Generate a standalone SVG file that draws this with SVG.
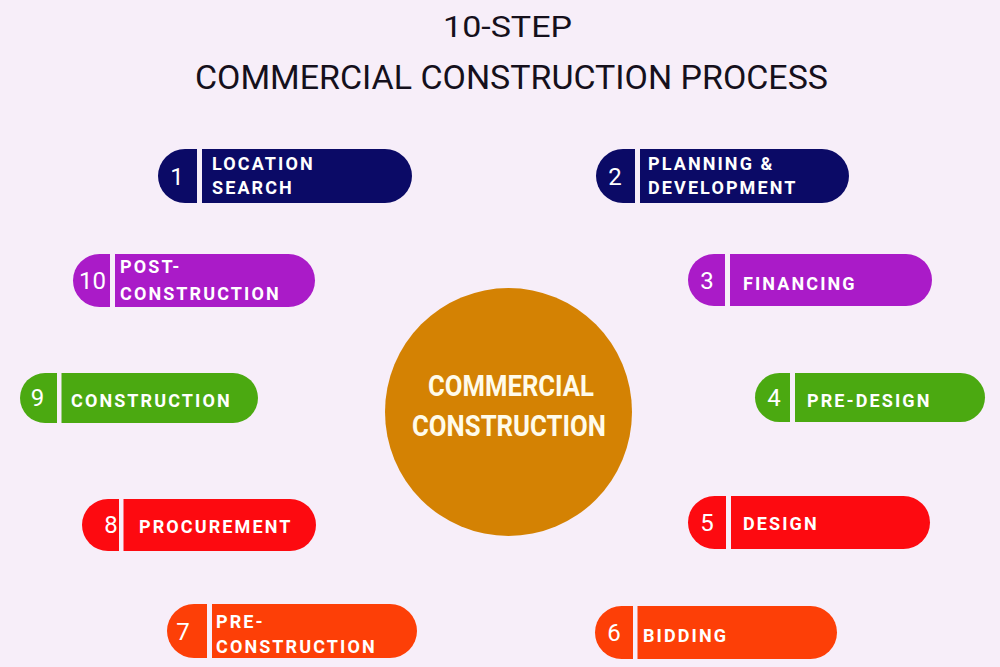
<svg xmlns="http://www.w3.org/2000/svg" width="1000" height="667" viewBox="0 0 1000 667">
  <style>
    .bg { fill: #f7eef9; }
    .gap { fill: #f7eef9; }
    .title { font-family: Roboto, "Liberation Sans", sans-serif; font-weight: 400; fill: #15101c; }
    .num { font-family: Roboto, "Liberation Sans", sans-serif; font-size: 24px; font-weight: 400; fill: #ffffff; text-anchor: middle; }
    .lbl { font-family: Roboto, "Liberation Sans", sans-serif; font-size: 18px; font-weight: 700; letter-spacing: 2.1px; fill: #ffffff; }
    .center { font-family: Roboto, "Liberation Sans", sans-serif; font-size: 30px; font-weight: 700; fill: #fffbea; text-anchor: middle; }
    .navy { fill: #0b0a66; }
    .purple { fill: #aa1bc8; }
    .green { fill: #4ba911; }
    .red { fill: #fd0a10; }
    .orange { fill: #fd3f07; }
  </style>
  <rect class="bg" x="0" y="0" width="1000" height="667"/>

  <g id="title">
    <text class="title" x="443" y="37" font-size="29" textLength="129" lengthAdjust="spacingAndGlyphs">10-STEP</text>
    <text class="title" x="195" y="89" font-size="33" textLength="633" lengthAdjust="spacingAndGlyphs">COMMERCIAL CONSTRUCTION PROCESS</text>
  </g>

  <g id="hub">
    <ellipse cx="508.5" cy="412" rx="123.5" ry="124" fill="#d48203"/>
    <text class="center" x="511" y="396" textLength="166" lengthAdjust="spacingAndGlyphs">COMMERCIAL</text>
    <text class="center" x="509" y="436" textLength="194" lengthAdjust="spacingAndGlyphs">CONSTRUCTION</text>
  </g>

  <g id="step1">
    <rect class="navy" x="158" y="149" width="254" height="54" rx="27" ry="27"/>
    <rect class="gap" x="197" y="148" width="5" height="56"/>
    <text class="num" x="177" y="185">1</text>
    <text class="lbl" x="212" y="170">LOCATION</text>
    <text class="lbl" x="212" y="194">SEARCH</text>
  </g>

  <g id="step2">
    <rect class="navy" x="596" y="149" width="253" height="54" rx="27" ry="27"/>
    <rect class="gap" x="635" y="148" width="5" height="56"/>
    <text class="num" x="615" y="185">2</text>
    <text class="lbl" x="648" y="170">PLANNING &amp;</text>
    <text class="lbl" x="648" y="194">DEVELOPMENT</text>
  </g>

  <g id="step3">
    <rect class="purple" x="688" y="254" width="244" height="52" rx="26" ry="26"/>
    <rect class="gap" x="725" y="253" width="5" height="54"/>
    <text class="num" x="707" y="289">3</text>
    <text class="lbl" x="743" y="290">FINANCING</text>
  </g>

  <g id="step4">
    <rect class="green" x="755" y="373" width="230" height="49" rx="24.5" ry="24.5"/>
    <rect class="gap" x="790" y="372" width="5" height="51"/>
    <text class="num" x="774" y="406">4</text>
    <text class="lbl" x="807" y="407">PRE-DESIGN</text>
  </g>

  <g id="step5">
    <rect class="red" x="688" y="496" width="242" height="53" rx="26.5" ry="26.5"/>
    <rect class="gap" x="726" y="495" width="5" height="55"/>
    <text class="num" x="707" y="531">5</text>
    <text class="lbl" x="743" y="530">DESIGN</text>
  </g>

  <g id="step6">
    <rect class="orange" x="595" y="606" width="242" height="53" rx="26.5" ry="26.5"/>
    <rect class="gap" x="633" y="605" width="4.5" height="55"/>
    <text class="num" x="614" y="641">6</text>
    <text class="lbl" x="643" y="642">BIDDING</text>
  </g>

  <g id="step7">
    <rect class="orange" x="167" y="604" width="250" height="54" rx="27" ry="27"/>
    <rect class="gap" x="207" y="603" width="5" height="56"/>
    <text class="num" x="183" y="640">7</text>
    <text class="lbl" x="216" y="628">PRE-</text>
    <text class="lbl" x="216" y="653">CONSTRUCTION</text>
  </g>

  <g id="step8">
    <rect class="red" x="82" y="499" width="234" height="52" rx="26" ry="26"/>
    <rect class="gap" x="119" y="498" width="4.5" height="54"/>
    <text class="num" x="111" y="533">8</text>
    <text class="lbl" x="139" y="533">PROCUREMENT</text>
  </g>

  <g id="step9">
    <rect class="green" x="20" y="373" width="238" height="50" rx="25" ry="25"/>
    <rect class="gap" x="57" y="372" width="4.5" height="52"/>
    <text class="num" x="37.5" y="406">9</text>
    <text class="lbl" x="71" y="407">CONSTRUCTION</text>
  </g>

  <g id="step10">
    <rect class="purple" x="73" y="254" width="242" height="53" rx="26.5" ry="26.5"/>
    <rect class="gap" x="110" y="253" width="5" height="55"/>
    <text class="num" x="92.5" y="289">10</text>
    <text class="lbl" x="120" y="273">POST-</text>
    <text class="lbl" x="120" y="300">CONSTRUCTION</text>
  </g>
</svg>
